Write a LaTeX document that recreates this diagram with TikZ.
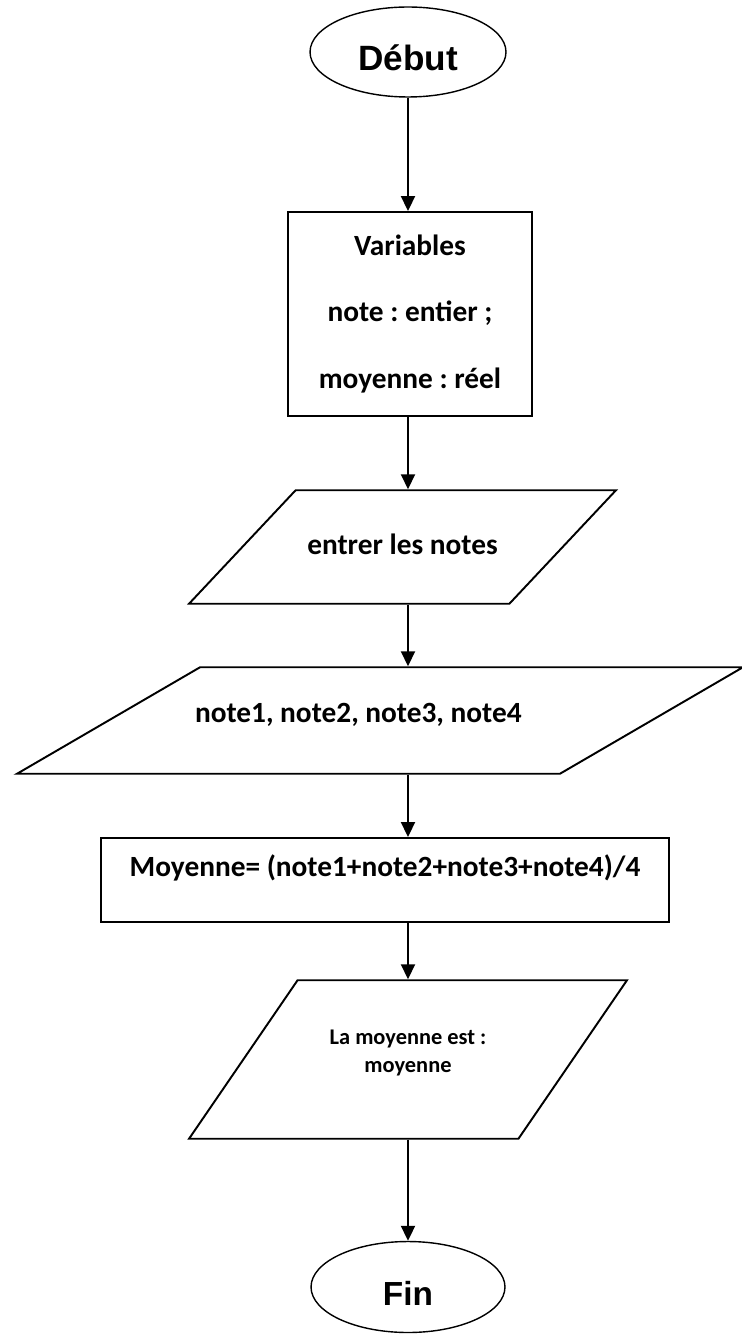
\documentclass[tikz,border=0pt]{standalone}
\usepackage{fontspec}
\setmainfont{Carlito}
\newfontfamily\arialfont{Liberation Sans}
\usetikzlibrary{arrows.meta,shapes.geometric}
\frenchspacing

\begin{document}
\begin{tikzpicture}[x=0.02cm, y=-0.02cm,
		flow/.style={line width=1.1pt, -{Triangle[length=0.3cm, width=0.28cm]}},
		terminal/.style={ellipse, draw, line width=0.8pt, inner sep=0pt,
			text height=21pt, text depth=0pt,
			font=\arialfont\bfseries\fontsize{20}{24}\selectfont},
		process/.style={rectangle, draw, line width=1.1pt, inner sep=0pt, align=center,
			font=\bfseries\fontsize{16.7}{20}\selectfont},
		% the slant comes from the natural height, so inner ysep sets the full height
		io/.style={trapezium, draw, line width=1.1pt, inner xsep=0pt, align=center,
			trapezium stretches body, font=\bfseries\fontsize{16.7}{20}\selectfont}]
	%%%%% START %%%%%
	\useasboundingbox (0,0) rectangle (742,1334);
	
	\node[terminal, minimum width=3.92cm, minimum height=1.8cm] (debut) at (408,52) {Début};
	
	\node[process, minimum width=4.88cm, minimum height=4.08cm,
		font=\bfseries\fontsize{16.7}{38}\selectfont] (vars) at (410,314)
		{Variables\\note : entier ;\\moyenne : réel};
	
	\node[io, trapezium left angle=46.8, trapezium right angle=133.2,
		text height=12pt, text depth=4pt, inner ysep=24.3pt,
		minimum width=8.54cm] (saisie) at (402.5,547) {entrer les notes};
	
	\node[io, trapezium left angle=30.2, trapezium right angle=149.8,
		text height=12pt, text depth=10pt, inner ysep=19.3pt, inner xsep=-0.15cm,
		minimum width=14.52cm, text width=7.4cm, align=flush left]
		(notes) at (380,720.5) {note1, note2, note3, note4};
	
	\node[process, minimum width=11.36cm, minimum height=1.68cm, text depth=16pt]
		(calcul) at (385,880) {Moyenne= (note1+note2+note3+note4)/4};
	
	\node[io, trapezium left angle=55.6, trapezium right angle=124.4,
		text height=25pt, text depth=10pt, inner ysep=27.6pt,
		minimum width=8.76cm, font=\bfseries\fontsize{12.75}{16}\selectfont]
		(affiche) at (408,1059.5) {La moyenne est :\\moyenne};
	
	\node[terminal, minimum width=3.88cm, minimum height=1.82cm,
		font=\arialfont\bfseries\fontsize{19}{23}\selectfont] (fin) at (408,1287) {Fin};
	
	% arrows all run down the same vertical line
	\draw[flow] (debut.south) -- (vars.north -| debut);
	\draw[flow] (vars.south -| debut) -- (saisie.north -| debut);
	\draw[flow] (saisie.south -| debut) -- (notes.north -| debut);
	\draw[flow] (notes.south -| debut) -- (calcul.north -| debut);
	\draw[flow] (calcul.south -| debut) -- (affiche.north -| debut);
	\draw[flow] (affiche.south -| debut) -- (fin.north);
	%%%%% END %%%%%
\end{tikzpicture}
\end{document}
